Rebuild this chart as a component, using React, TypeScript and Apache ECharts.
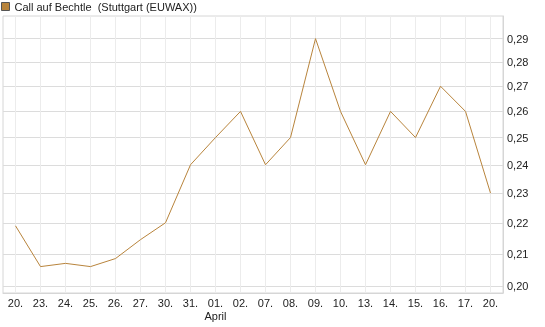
import React, { useEffect, useRef } from "react";
import * as echarts from "echarts";

const seriesName = "Call auf Bechtle  (Stuttgart (EUWAX))";
const categories = ["20.", "23.", "24.", "25.", "26.", "27.", "30.", "31.", "01.", "02.", "07.", "08.", "09.", "10.", "13.", "14.", "15.", "16.", "17.", "20."];
const monthLabels: [number, string][] = [[8, "April"]];
const prices = [0.219, 0.206, 0.207, 0.206, 0.2085, 0.2145, 0.22, 0.24, 0.25, 0.26, 0.24, 0.25, 0.29, 0.26, 0.24, 0.26, 0.25, 0.27, 0.26, 0.23];
const yTicks = [0.2, 0.21, 0.22, 0.23, 0.24, 0.25, 0.26, 0.27, 0.28, 0.29];

const FONT = "'Liberation Sans', Arial, sans-serif";

export default function App() {
  const ref = useRef<HTMLDivElement>(null);
  useEffect(() => {
    if (!ref.current) return;
    const chart = echarts.init(ref.current, null, { renderer: "svg" });
    const monthMap = new Map(monthLabels);
    chart.setOption({
      animation: false,
      textStyle: { fontFamily: FONT },
      legend: {
        left: 1,
        top: 1,
        padding: 0,
        icon: "rect",
        itemWidth: 8,
        itemHeight: 8,
        itemStyle: { borderColor: "#555", borderWidth: 1 },
        textStyle: { fontSize: 11, color: "#222", fontFamily: FONT },
        data: [seriesName],
      },
      grid: {
        left: 3,
        right: 42,
        top: 16,
        bottom: 34,
        show: true,
        borderColor: "#d6d6d6",
        borderWidth: 1,
      },
      xAxis: {
        type: "category",
        data: categories,
        boundaryGap: true,
        axisLine: { show: true, lineStyle: { color: "#d6d6d6" } },
        axisTick: {
          show: true,
          alignWithLabel: true,
          inside: true,
          length: 277,
          lineStyle: { color: "#ececec" },
        },
        splitLine: { show: false },
        axisLabel: {
          interval: 0,
          fontSize: 11,
          color: "#222",
          margin: 3,
          lineHeight: 13,
          fontFamily: FONT,
          formatter: (v: string, i: number) => (monthMap.has(i) ? v + "\n" + monthMap.get(i) : v),
        },
      },
      yAxis: {
        type: "log",
        logBase: 10,
        min: 0.198,
        max: 0.3,
        position: "right",
        axisLine: { show: true, lineStyle: { color: "#d6d6d6" } },
        axisTick: { show: false, customValues: yTicks },
        splitLine: { show: true, lineStyle: { color: "#dcdcdc" } },
        axisLabel: {
          customValues: yTicks,
          fontSize: 11,
          color: "#222",
          margin: 4,
          fontFamily: FONT,
          formatter: (v: number) => v.toFixed(2).replace(".", ","),
        },
      },
      series: [
        {
          name: seriesName,
          type: "line",
          data: prices,
          symbol: "none",
          color: "#b8843c",
          lineStyle: { width: 1, color: "#b8843c" },
        },
      ],
    });
    return () => chart.dispose();
  }, []);
  return <div ref={ref} style={{ position: "fixed", left: 0, top: 0, width: 545, height: 327 }} />;
}
